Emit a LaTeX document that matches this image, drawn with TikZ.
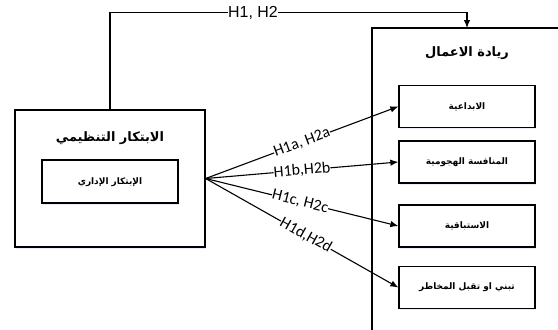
\documentclass[tikz,border=0pt]{standalone}
\usepackage{fontspec}
\setmainfont{Liberation Sans}
\newfontfamily\calfont{Carlito}
\newfontfamily\arabicfont[Script=Arabic]{DejaVu Sans}
\TeXXeTstate=1
\usetikzlibrary{arrows.meta,shadows}
\begin{document}
\begin{tikzpicture}[x=1bp,y=-1bp,
  boxstyle/.style={draw,line width=1.3bp,fill=white,inner sep=0pt,
     drop shadow={shadow xshift=1.2bp,shadow yshift=-1.5bp,fill=blue!25,opacity=0.35}},
  toplab/.style={font=\fontsize{16}{16}\selectfont,inner sep=0.5bp,fill=white},
  lab/.style={font=\calfont\fontsize{16}{16}\selectfont,inner sep=0.2bp,fill=white},
  artitle/.style={font=\arabicfont\bfseries\fontsize{13}{15}\selectfont},
  arsmall/.style={font=\arabicfont\bfseries\fontsize{9}{11}\selectfont},
  conn/.style={line width=1.1bp},
  arr/.style={conn,-{Latex[length=8bp,width=6.5bp]}}]
\useasboundingbox (0,0) rectangle (558,329);
% left box
\node[boxstyle,minimum width=190bp,minimum height=137bp] (lbox) at (110,178.5) {};
\node[artitle] (ltitle) at (110,138) {\beginR الابتكار التنظيمي\endR};
\node[boxstyle,minimum width=136bp,minimum height=43bp] (ibox) at (110,181.5) {};
\node[arsmall] (ilabel) at (110,182) {\beginR الإبتكار الإداري\endR};
% right big (open) box
\draw[line width=1.3bp] (372,330) -- (372,28) -- (559,28);
\coordinate (bigtop) at (467,28);
\coordinate (turn) at (467,12.5);
\node[artitle] (rtitle) at (467,53) {\beginR ريادة الاعمال\endR};
% right boxes
\node[boxstyle,minimum width=136bp,minimum height=42bp] (b1) at (467,106.5) {};
\node[arsmall] at (b1) {\beginR الابداعية\endR};
\node[boxstyle,minimum width=136bp,minimum height=42bp] (b2) at (467,162) {};
\node[arsmall] at (b2) {\beginR المنافسة الهجومية\endR};
\node[boxstyle,minimum width=136bp,minimum height=42bp] (b3) at (467,226) {};
\node[arsmall] at (b3) {\beginR الاستباقية\endR};
\node[boxstyle,minimum width=136bp,minimum height=42bp] (b4) at (467,287.5) {};
\node[arsmall] at (b4) {\beginR تبني او تقبل المخاطر\endR};
% top connector
\draw[arr] (lbox.north) |- (turn) -- (bigtop);
\node[toplab] (h12) at (253,13) {H1, H2};
% fan
\draw[arr] (lbox.east) -- node[lab,sloped] {H1a, H2a} (b1.west);
\draw[arr] (lbox.east) -- node[lab,sloped] {H1b,H2b} (b2.west);
\draw[arr] (lbox.east) -- node[lab,sloped,pos=0.49] {H1c, H2c} (b3.west);
\draw[arr] (lbox.east) -- node[lab,sloped,pos=0.52] {H1d,H2d} (b4.west);
\end{tikzpicture}
\end{document}
